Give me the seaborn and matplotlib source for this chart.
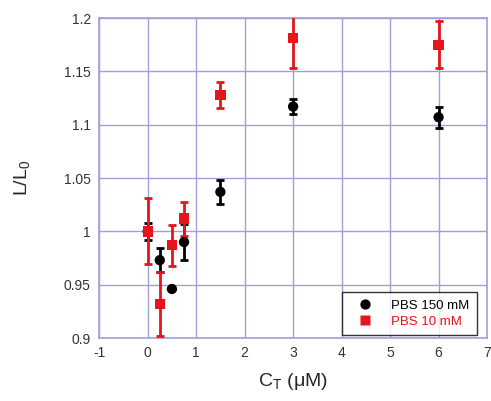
import numpy as np
import pandas as pd
import matplotlib
matplotlib.use('Agg')
import matplotlib.pyplot as plt
import seaborn as sns

# concentrations (uM)
conc = [0, 0.25, 0.5, 0.75, 1.5, 3, 6]

# PBS 150 mM
pbs150 = [1.0, 0.973, 0.946, 0.990, 1.037, 1.117, 1.107]
pbs150_err = [0.008, 0.011, 0.0, 0.017, 0.011, 0.007, 0.010]

# PBS 10 mM
pbs10 = [1.0, 0.932, 0.987, 1.012, 1.128, 1.181, 1.175]
pbs10_err = [0.031, 0.030, 0.019, 0.016, 0.012, 0.028, 0.022]

df = pd.concat([
    pd.DataFrame({'C': conc, 'L': pbs150, 'err': pbs150_err, 'buffer': 'PBS 150 mM'}),
    pd.DataFrame({'C': conc, 'L': pbs10, 'err': pbs10_err, 'buffer': 'PBS 10 mM'}),
])

sns.set_style('white')
plt.rcParams['font.family'] = ['Liberation Sans', 'DejaVu Sans']
plt.rcParams['axes.unicode_minus'] = False

fig = plt.figure(figsize=(4.91, 4.01), dpi=100)
ax = fig.add_axes([0.202, 0.157, 0.79, 0.798])

grid_col = '#9f9fdc'
colors = {'PBS 150 mM': 'black', 'PBS 10 mM': '#e8131b'}
markers = {'PBS 150 mM': 'o', 'PBS 10 mM': 's'}

# error bars first
for name, sub in df.groupby('buffer', sort=False):
    ax.errorbar(sub['C'], sub['L'], yerr=sub['err'], fmt='none',
                ecolor=colors[name], elinewidth=2, capsize=3, capthick=2, zorder=3)

sns.scatterplot(data=df, x='C', y='L', hue='buffer', style='buffer',
                palette=colors, markers=markers, s=55, edgecolor='none',
                ax=ax, zorder=4)

ax.set_xlim(-1, 7)
ax.set_ylim(0.9, 1.2)
ax.set_xticks(range(-1, 8))
ax.set_yticks([0.9, 0.95, 1.0, 1.05, 1.1, 1.15, 1.2])
ax.set_yticklabels(['0.9', '0.95', '1', '1.05', '1.1', '1.15', '1.2'])
ax.grid(True, color=grid_col, linewidth=1)
ax.set_axisbelow(True)
for sp in ax.spines.values():
    sp.set_color(grid_col)
    sp.set_linewidth(1.2)
ax.tick_params(direction='in', length=4, color=grid_col, labelsize=10,
               labelcolor='#333333', pad=6)

ax.set_xlabel(r'C$_\mathregular{T}$ ($\mathregular{\mu}$M)', fontsize=14, labelpad=8)
ax.set_ylabel(r'L/L$_\mathregular{0}$', fontsize=14, labelpad=22)

leg = ax.legend(loc='lower right', frameon=True, fancybox=False, fontsize=9.5,
                bbox_to_anchor=(0.975, 0.008), borderpad=0.6, handletextpad=0.9,
                labelspacing=0.25, borderaxespad=0, handlelength=2.2)
leg.get_frame().set_edgecolor('black')
leg.get_frame().set_linewidth(1)
for txt, name in zip(leg.get_texts(), ['PBS 150 mM', 'PBS 10 mM']):
    txt.set_color(colors[name])

fig.savefig('out.png', dpi=100)
